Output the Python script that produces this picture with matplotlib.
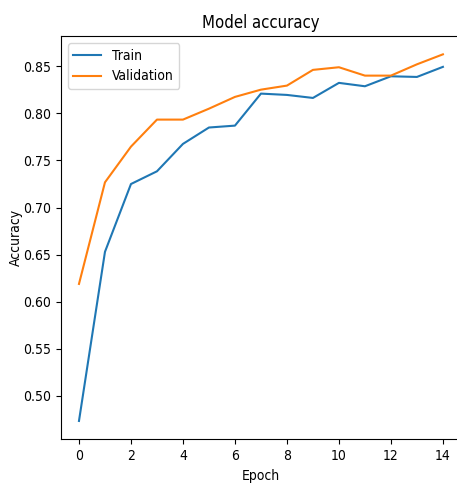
import matplotlib
matplotlib.use("Agg")
import matplotlib.pyplot as plt

epochs = list(range(15))
train_acc = [0.4734, 0.653, 0.725, 0.7385, 0.7676, 0.785, 0.787, 0.821, 0.8196,
             0.8164, 0.8324, 0.8288, 0.8394, 0.8387, 0.8494]
val_acc = [0.6189, 0.7268, 0.7647, 0.7934, 0.7934, 0.805, 0.8175, 0.8252, 0.8295,
           0.8462, 0.849, 0.8401, 0.8401, 0.8521, 0.8627]

# the reference text is narrow
plt.rcParams['font.stretch'] = 'condensed'

fig = plt.figure(figsize=(4.57, 4.84), dpi=100)
ax = fig.add_axes([0.133, 0.0924, 0.876, 0.8332])

ax.plot(epochs, train_acc, label="Train")
ax.plot(epochs, val_acc, label="Validation")
ax.set_title("Model accuracy")
ax.set_xlabel("Epoch")
ax.set_ylabel("Accuracy", labelpad=0)
ax.set_xticks(range(0, 15, 2))
ax.legend(loc="upper left")

fig.savefig("out.png", dpi=100)
